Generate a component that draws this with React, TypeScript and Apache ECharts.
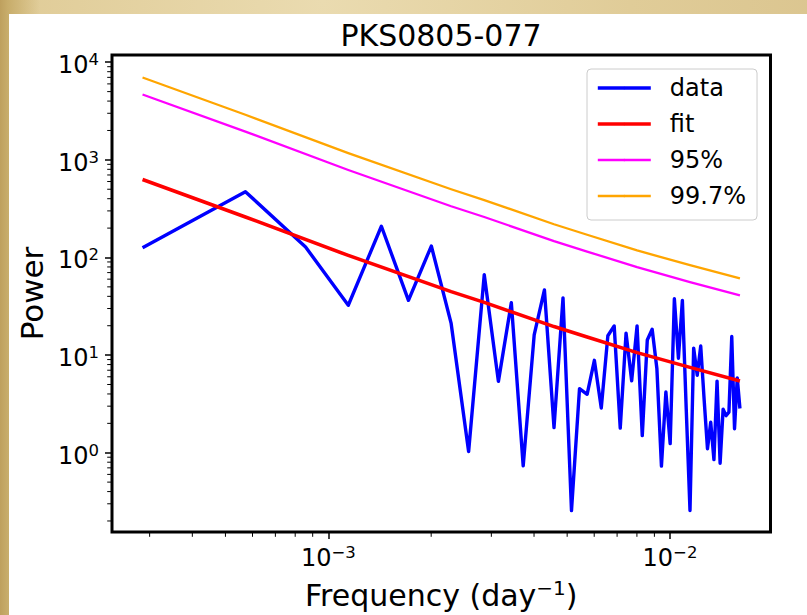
import React, { useEffect, useRef } from "react";
import * as echarts from "echarts";

// ---- data ----
const titleText = "PKS0805-077";
const seriesNames = ["data", "fit", "95%", "99.7%"];

const freq = [
  0.000286, 0.000572, 0.000858, 0.001144, 0.00143, 0.001716, 0.002002, 0.002288,
  0.002574, 0.00286, 0.003146, 0.003432, 0.003718, 0.004004, 0.00429, 0.004576,
  0.004862, 0.005148, 0.005434, 0.00572, 0.006006, 0.006292, 0.006578, 0.006864,
  0.00715, 0.007436, 0.007722, 0.008008, 0.008294, 0.00858, 0.008866, 0.009152,
  0.009438, 0.009724, 0.01001, 0.010296, 0.010582, 0.010868, 0.011154, 0.01144,
  0.011726, 0.012012, 0.012298, 0.012584, 0.01287, 0.013156, 0.013442, 0.013728,
  0.014014, 0.0143, 0.014586, 0.014872, 0.015158, 0.015444, 0.01573, 0.016016,
];

const power = [
  126, 472, 128, 32.4, 209, 36.4, 131, 21.1,
  1.03, 66.7, 5.38, 34.4, 0.735, 16.1, 46.6, 1.81,
  38.6, 0.255, 4.53, 3.97, 8.84, 2.87, 15.8, 19.9,
  1.79, 16.8, 5.45, 19.9, 1.5, 14.3, 18.4, 7.3,
  0.73, 4.19, 1.24, 37.8, 9.3, 36.4, 2.8, 0.256,
  11.8, 6.2, 12.4, 3.5, 1.1, 2.05, 0.85, 5.42,
  0.78, 2.8, 2.4, 2.6, 15.5, 1.76, 5.85, 2.84,
];

const fitFreq = [0.000286, 0.000572, 0.001144, 0.002288, 0.00286, 0.004576, 0.00572, 0.008008, 0.01144, 0.016016];
const fitPower = [629, 260, 105, 44.7, 34.7, 19.6, 15.3, 10.6, 7.49, 5.42];
const conf95 = [4670, 1950, 787, 335, 260, 147, 115, 79.5, 56, 40.9];
const conf997 = [6980, 2900, 1170, 500, 387, 219, 171, 118, 83.5, 61.1];

const xMajorTicks = [0.001, 0.01];
const xMinorTicks = [
  0.0003, 0.0004, 0.0005, 0.0006, 0.0007, 0.0008, 0.0009,
  0.002, 0.003, 0.004, 0.005, 0.006, 0.007, 0.008, 0.009,
];
const yMajorTicks = [1, 10, 100, 1000, 10000];
const yMinorTicks = [
  0.2, 0.3, 0.4, 0.5, 0.6, 0.7, 0.8, 0.9,
  2, 3, 4, 5, 6, 7, 8, 9,
  20, 30, 40, 50, 60, 70, 80, 90,
  200, 300, 400, 500, 600, 700, 800, 900,
  2000, 3000, 4000, 5000, 6000, 7000, 8000, 9000,
];

const xRange = [0.0002328, 0.01968];
const yRange = [0.1542, 11860];

const FONT = "DejaVu Sans";

const supLabel = (v: number) => {
  const e = Math.round(Math.log10(v));
  const s = e < 0 ? "\u2212" + String(-e) : String(e);
  return `{b|10}{s|${s}}`;
};

const tickRich = {
  b: { fontFamily: FONT, fontSize: 24, color: "#000", padding: [6, 0, 0, 0] },
  s: { fontFamily: FONT, fontSize: 16.5, color: "#000", padding: [0, 0, 5, 0] },
};

const nameRich = {
  n: { fontFamily: FONT, fontSize: 30, color: "#000", padding: [8, 0, 0, 0] },
  s: { fontFamily: FONT, fontSize: 20, color: "#000", padding: [0, 0, 6, 0] },
};

function buildOption() {
  const pair = (xs: number[], ys: number[]) => xs.map((x, i) => [x, ys[i]]);
  const minorX = (params: any, api: any) => {
    const p = api.coord([api.value(0), api.value(1)]);
    return {
      type: "line",
      shape: { x1: p[0], y1: p[1] + 1, x2: p[0], y2: p[1] + 4.8 },
      style: { stroke: "#000", lineWidth: 1 },
    };
  };
  const minorY = (params: any, api: any) => {
    const p = api.coord([api.value(0), api.value(1)]);
    return {
      type: "line",
      shape: { x1: p[0] - 1, y1: p[1], x2: p[0] - 4.8, y2: p[1] },
      style: { stroke: "#000", lineWidth: 1 },
    };
  };
  return {
    animation: false,
    backgroundColor: "transparent",
    title: {
      text: titleText,
      left: 441,
      top: 20,
      padding: 0,
      textAlign: "center",
      textStyle: { fontFamily: FONT, fontSize: 30, fontWeight: "normal", color: "#000" },
    },
    legend: {
      orient: "vertical",
      left: 587,
      top: 69,
      padding: [4, 11, 9, 9],
      itemWidth: 53,
      itemHeight: 3,
      itemGap: 6,
      selectedMode: false,
      backgroundColor: "rgba(255,255,255,0.85)",
      borderColor: "#cccccc",
      borderWidth: 1,
      borderRadius: 4,
      lineStyle: { width: "inherit" },
      textStyle: { fontFamily: FONT, fontSize: 24, color: "#000", lineHeight: 30, padding: [0, 0, 0, 14] },
      data: seriesNames,
    },
    grid: {
      left: 112,
      top: 55,
      width: 658.5,
      height: 482.7,
      show: true,
      borderColor: "#000",
      borderWidth: 3,
      backgroundColor: "transparent",
      containLabel: false,
    },
    xAxis: [
      {
        type: "log",
        logBase: 10,
        min: xRange[0],
        max: xRange[1],
        position: "bottom",
        axisLine: { show: false },
        splitLine: { show: false },
        axisTick: { show: true, customValues: xMajorTicks, length: 7, lineStyle: { color: "#000", width: 1.5 } },
        axisLabel: { customValues: xMajorTicks, formatter: supLabel, margin: 8, rich: tickRich },
        name: "{n|Frequency (day}{s|\u22121}{n|)}",
        nameLocation: "middle",
        nameGap: 40,
        nameTextStyle: { rich: nameRich },
      },
    ],
    yAxis: [
      {
        type: "log",
        logBase: 10,
        min: yRange[0],
        max: yRange[1],
        position: "left",
        axisLine: { show: false },
        splitLine: { show: false },
        axisTick: { show: true, customValues: yMajorTicks, length: 7, lineStyle: { color: "#000", width: 1.5 } },
        axisLabel: { customValues: yMajorTicks, formatter: supLabel, margin: 13, rich: tickRich },
        name: "Power",
        nameLocation: "middle",
        nameRotate: 90,
        nameGap: 63,
        nameTextStyle: { fontFamily: FONT, fontSize: 31, color: "#000" },
      },
    ],
    series: [
      {
        name: seriesNames[0],
        type: "line",
        data: pair(freq, power),
        symbol: "none",
        color: "#0000ff",
        lineStyle: { color: "#0000ff", width: 3.4, join: "round" },
        z: 2,
      },
      {
        name: seriesNames[1],
        type: "line",
        data: pair(fitFreq, fitPower),
        symbol: "none",
        color: "#ff0000",
        lineStyle: { color: "#ff0000", width: 3.6, join: "round" },
        z: 3,
      },
      {
        name: seriesNames[2],
        type: "line",
        data: pair(fitFreq, conf95),
        symbol: "none",
        color: "#ff00ff",
        lineStyle: { color: "#ff00ff", width: 2.3, join: "round" },
        z: 4,
      },
      {
        name: seriesNames[3],
        type: "line",
        data: pair(fitFreq, conf997),
        symbol: "none",
        color: "#ffa500",
        lineStyle: { color: "#ffa500", width: 2.3, join: "round" },
        z: 5,
      },
      {
        name: "x minor ticks",
        type: "custom",
        silent: true,
        clip: false,
        data: xMinorTicks.map((v) => [v, yRange[0]]),
        renderItem: minorX,
        z: 10,
      },
      {
        name: "y minor ticks",
        type: "custom",
        silent: true,
        clip: false,
        data: yMinorTicks.map((v) => [xRange[0], v]),
        renderItem: minorY,
        z: 10,
      },
    ],
  };
}

export default function App() {
  const ref = useRef<HTMLDivElement>(null);
  useEffect(() => {
    if (!ref.current) return;
    const chart = echarts.init(ref.current, null, { renderer: "svg" });
    chart.setOption(buildOption() as any);
    return () => chart.dispose();
  }, []);
  return (
    <div
      style={{
        position: "fixed",
        left: 0,
        top: 0,
        width: 807,
        height: 615,
        overflow: "hidden",
        background:
          "linear-gradient(90deg, #bea05e 0px, #c8ad6b 8px, rgba(220,200,150,0) 40px), radial-gradient(ellipse at 40% 0%, #eadbb0 0%, #e0cc98 45%, #d6bf88 100%)",
      }}
    >
      <div style={{ position: "absolute", left: 9, top: 14, right: 0, bottom: 0, background: "#ffffff" }} />
      <div ref={ref} style={{ position: "absolute", left: 0, top: 0, width: 807, height: 615 }} />
    </div>
  );
}
